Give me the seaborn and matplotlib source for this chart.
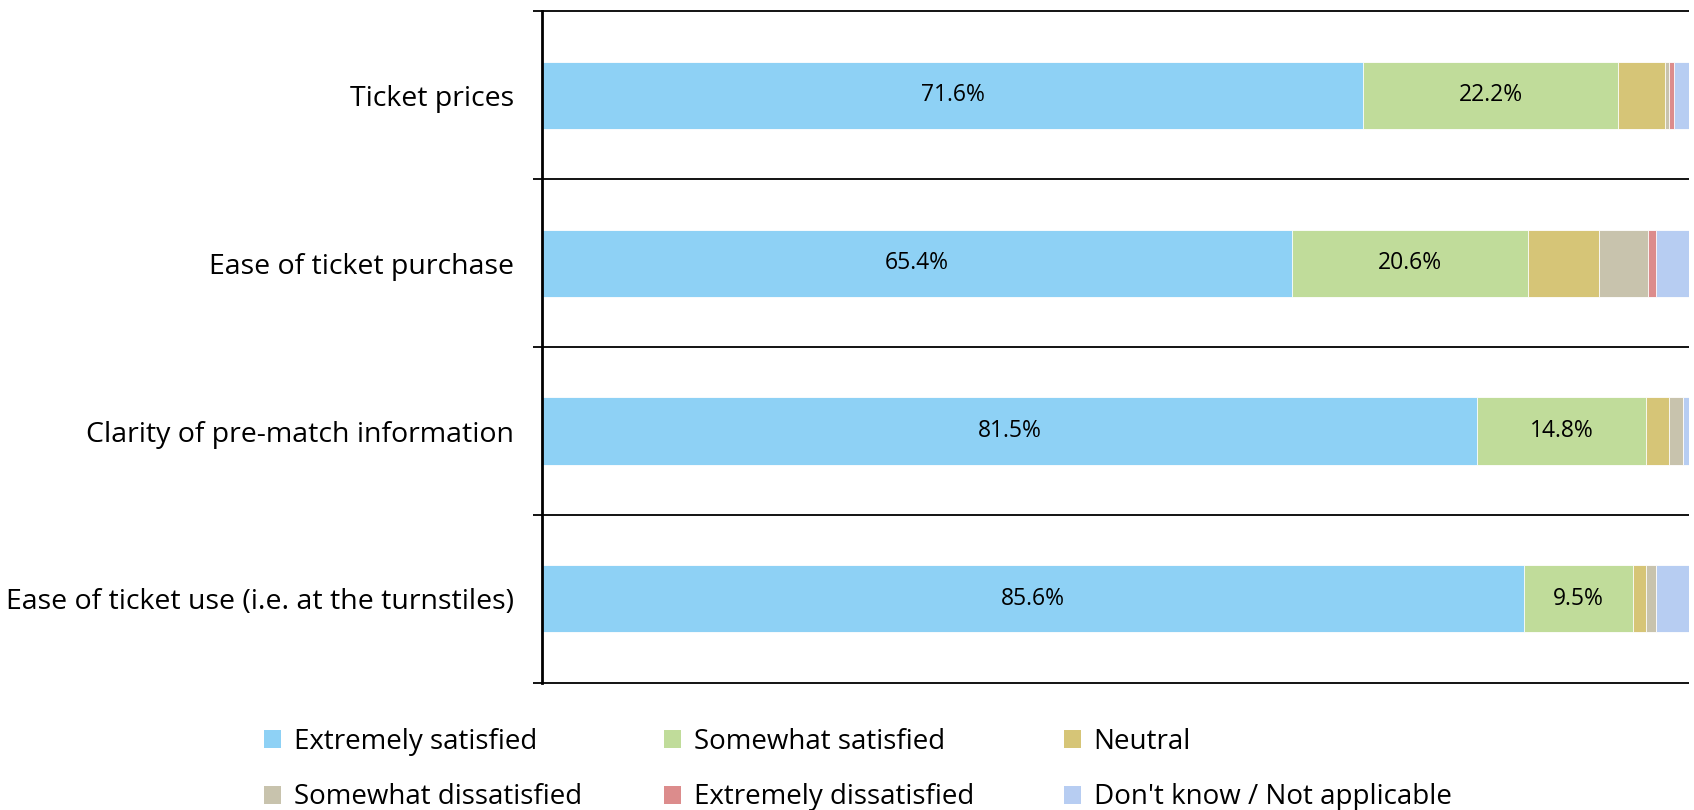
import pandas as pd
import numpy as np
import matplotlib
matplotlib.use("Agg")
import matplotlib.pyplot as plt
from matplotlib.patches import Patch
import seaborn as sns

categories = ["Ticket prices", "Ease of ticket purchase",
              "Clarity of pre-match information",
              "Ease of ticket use (i.e. at the turnstiles)"]
series = ["Extremely satisfied", "Somewhat satisfied", "Neutral",
          "Somewhat dissatisfied", "Extremely dissatisfied",
          "Don't know / Not applicable"]
extremely_satisfied = [71.6, 65.4, 81.5, 85.6]
somewhat_satisfied = [22.2, 20.6, 14.8, 9.5]
neutral = [4.1, 6.2, 2.0, 1.2]
somewhat_dissatisfied = [0.4, 4.2, 1.2, 0.8]
extremely_dissatisfied = [0.4, 0.7, 0.0, 0.0]
dont_know = [1.3, 2.9, 0.5, 2.9]
colors = ["#8ED1F5", "#C0DC9A", "#D6C577", "#C8C3AD", "#DC8C8C", "#B7CDF2"]

sns.set_style("white")
plt.rcParams['font.family'] = ['Open Sans', 'DejaVu Sans']
plt.rcParams['text.color'] = 'black'

df = pd.DataFrame({"category": categories,
                   series[0]: extremely_satisfied,
                   series[1]: somewhat_satisfied,
                   series[2]: neutral,
                   series[3]: somewhat_dissatisfied,
                   series[4]: extremely_dissatisfied,
                   series[5]: dont_know})
cum = df[series].cumsum(axis=1)

fig = plt.figure(figsize=(16.94, 8.10), dpi=100)
ax = fig.add_axes([0.320, 0.157, 0.677, 0.829])

# draw cumulative totals from the back so each segment shows
for i in range(len(series) - 1, -1, -1):
    sns.barplot(x=cum[series[i]], y=df["category"], color=colors[i],
                orient="h", width=0.4, ax=ax, saturation=1,
                edgecolor="white", linewidth=0.6)

# value labels for the two largest segments
for i in range(2):
    left = cum[series[i]] - df[series[i]]
    for j, v in enumerate(df[series[i]]):
        ax.text(left[j] + v / 2, j, f"{v:.1f}%", ha="center", va="center",
                fontsize=16.5, color="black")

ax.set_xlim(0, 100)
ax.set_ylim(3.5, -0.5)
ax.set_xlabel("")
ax.set_ylabel("")
ax.set_xticks([])
ax.tick_params(axis="y", which="major", length=0, labelsize=20.5, pad=20,
               labelcolor="black")
ax.grid(False)

# category separators, poking out a little left of the axis
ax.hlines(np.arange(-0.5, 4, 1), -0.8, 100, color="black", linewidth=1.3,
          clip_on=False, zorder=5)

for s in ["top", "right", "bottom"]:
    ax.spines[s].set_visible(False)
ax.spines["left"].set_color("black")
ax.spines["left"].set_linewidth(2)

# legend: three columns, filled row by row
col_x = [0.156, 0.392, 0.628]
for c in range(3):
    idx = [c, c + 3]
    handles = [Patch(facecolor=colors[k], edgecolor="none") for k in idx]
    fig.legend(handles, [series[k] for k in idx], loc="center left",
               bbox_to_anchor=(col_x[c], 0.050), frameon=False, fontsize=20,
               handlelength=0.62, handleheight=0.62, handletextpad=0.45,
               labelspacing=1.0, borderpad=0, borderaxespad=0,
               labelcolor="black")

fig.savefig("out.png", dpi=100)
